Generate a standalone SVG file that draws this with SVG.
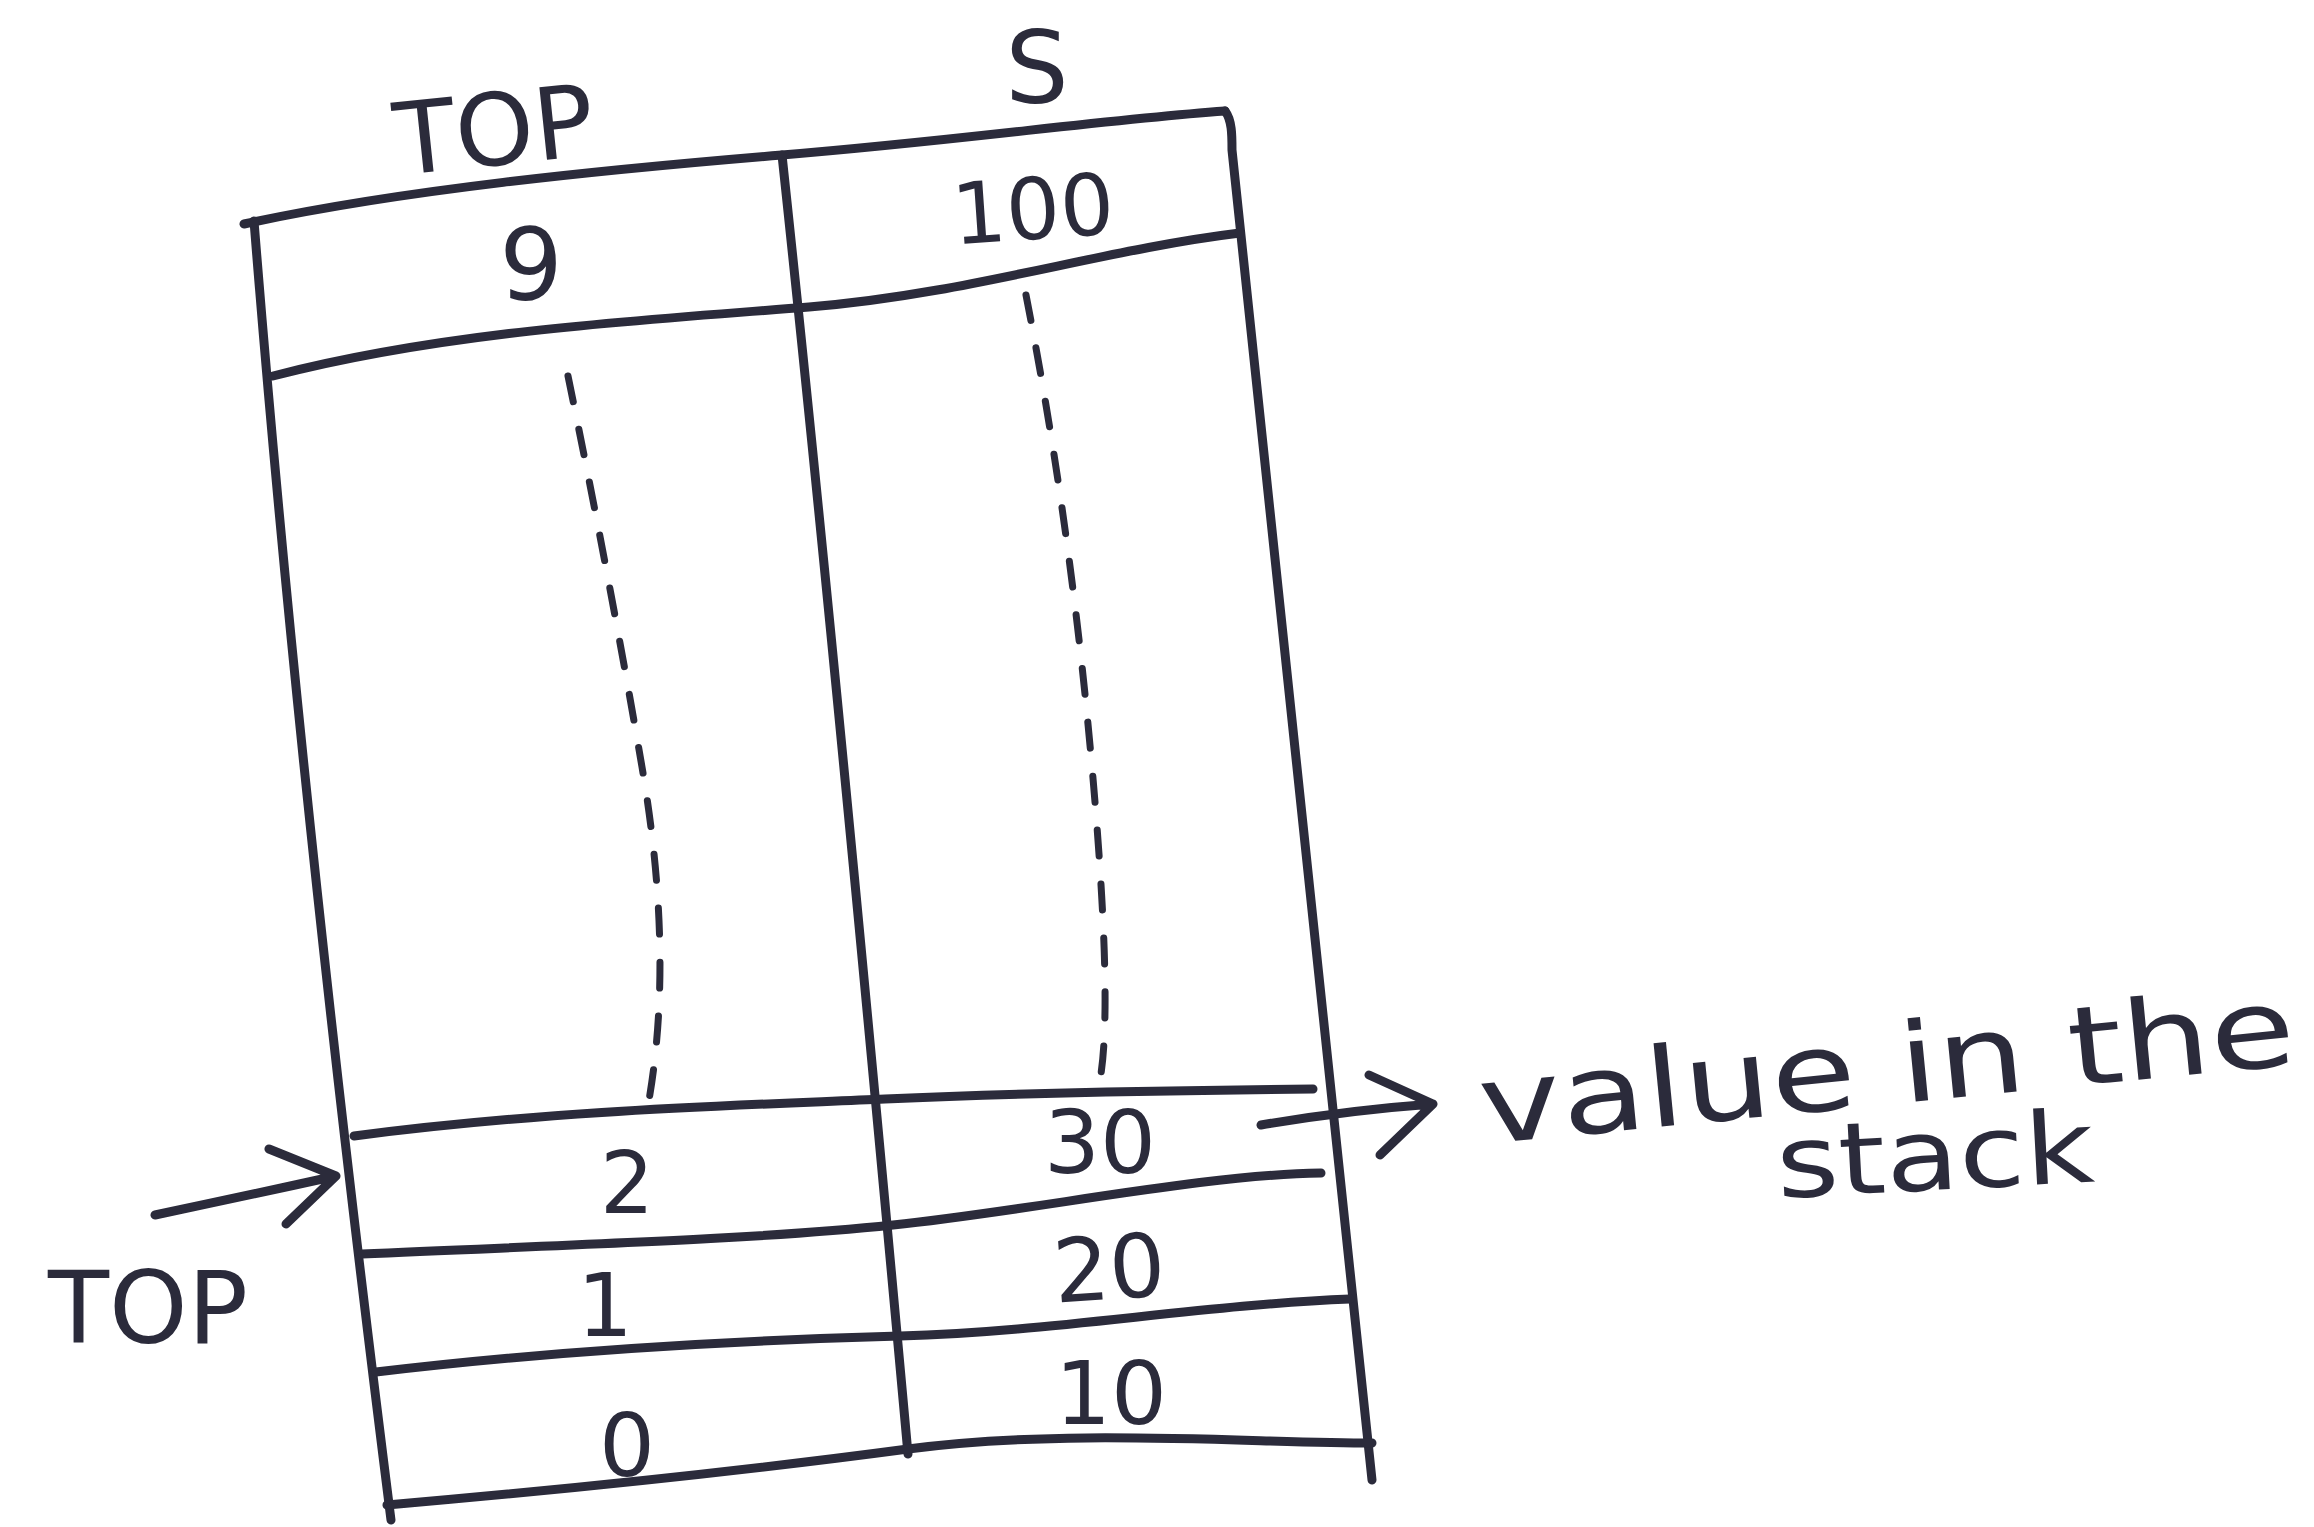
<svg xmlns="http://www.w3.org/2000/svg" width="2314" height="1527" viewBox="0 0 2314 1527">
<style>
.ln{fill:none;stroke:#2b2b3b;stroke-width:9;stroke-linecap:round;stroke-linejoin:round}
.ds{fill:none;stroke:#2b2b3b;stroke-width:7;stroke-dasharray:26 28;stroke-linecap:round}
.tx{font-family:"DejaVu Sans",sans-serif;fill:#2b2b3b;font-weight:normal}
</style>
<rect width="2314" height="1527" fill="#ffffff"/>
<g id="table">
<path class="ln" d="M244,224 C400,190 600,170 782,155 S1100,120 1225,111"/>
<path class="ln" d="M254,221 Q300,800 391,1520"/>
<path class="ln" d="M1225,111 C1232,120 1232,135 1232,150 Q1300,800 1372,1480"/>
<path class="ln" d="M782,155 Q835,650 908,1454"/>
<path class="ln" d="M273,376 C450,330 650,320 809,307 S1100,250 1240,233"/>
<path class="ln" d="M354,1136 C550,1110 750,1105 885,1099 S1200,1090 1313,1089"/>
<path class="ln" d="M362,1254 C560,1245 750,1240 893,1225 S1200,1175 1321,1173"/>
<path class="ln" d="M376,1372 C560,1350 750,1340 900,1336 S1200,1305 1350,1299"/>
<path class="ln" d="M387,1505 C560,1490 750,1470 908,1449 S1250,1443 1372,1443"/>
<path class="ds" d="M568,376 Q610,580 642,767 T649,1100"/>
<path class="ds" d="M1026,295 Q1070,520 1092,767 T1099,1085"/>
</g>
<g id="headers">
<text class="tx" x="494" y="165" font-size="100" text-anchor="middle" transform="rotate(-6 494 130)">TOP</text>
<text class="tx" x="1037" y="103" font-size="100" text-anchor="middle">S</text>
</g>
<g id="cells">
<text class="tx" x="531" y="300" font-size="100" text-anchor="middle">9</text>
<text class="tx" x="1033" y="239" font-size="85" text-anchor="middle" transform="rotate(-4 1033 210)">100</text>
<text class="tx" x="627" y="1213" font-size="85" text-anchor="middle">2</text>
<text class="tx" x="1100" y="1173" font-size="88" text-anchor="middle">30</text>
<text class="tx" x="605" y="1336" font-size="88" text-anchor="middle">1</text>
<text class="tx" x="1109" y="1299" font-size="88" text-anchor="middle" transform="rotate(-4 1109 1265)">20</text>
<text class="tx" x="627" y="1476" font-size="88" text-anchor="middle">0</text>
<text class="tx" x="1111" y="1424" font-size="88" text-anchor="middle">10</text>
</g>
<g id="labels">
<text class="tx" x="48" y="1343" font-size="100" textLength="200" lengthAdjust="spacingAndGlyphs">TOP</text>
<text class="tx" x="1483" y="1144" font-size="110" textLength="819" lengthAdjust="spacingAndGlyphs" transform="rotate(-5.6 1483 1144)">value in the</text>
<text class="tx" x="1778" y="1198" font-size="100" textLength="318" lengthAdjust="spacingAndGlyphs" transform="rotate(-3 1778 1198)">stack</text>
</g>
<g id="connectors">
<path class="ln" d="M155,1215 Q250,1195 336,1176 M269,1149 L336,1176 L286,1224"/>
<path class="ln" d="M1261,1125 Q1350,1110 1433,1104 M1369,1075 L1433,1104 L1380,1155"/>
</g>
</svg>
